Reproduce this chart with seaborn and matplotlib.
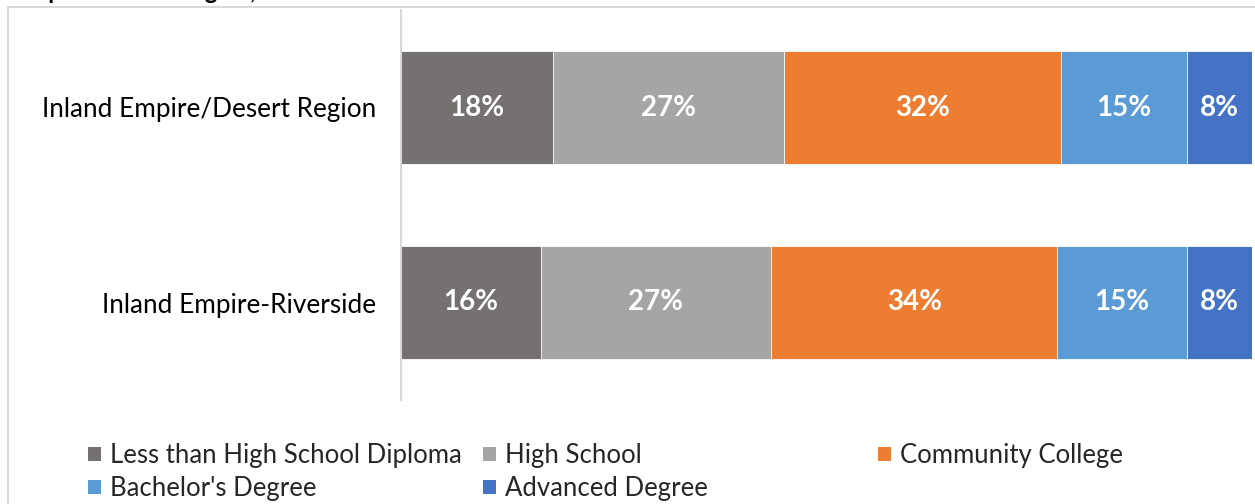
import matplotlib
matplotlib.use("Agg")
import matplotlib.pyplot as plt
from matplotlib.patches import Patch
from matplotlib.lines import Line2D
import seaborn as sns
import pandas as pd
import numpy as np

regions = ["Inland Empire/Desert Region", "Inland Empire-Riverside"]
levels = ["Less than High School Diploma", "High School", "Community College",
          "Bachelor's Degree", "Advanced Degree"]
desert_values = [17.9, 27.1, 32.5, 14.9, 7.6]
riverside_values = [16.4, 27.1, 33.6, 15.3, 7.6]
desert_labels = ["18%", "27%", "32%", "15%", "8%"]
riverside_labels = ["16%", "27%", "34%", "15%", "8%"]
colors = ["#767171", "#A5A5A5", "#ED7D31", "#5B9BD5", "#4472C4"]

sns.set_theme(style="white")
plt.rcParams["font.family"] = ["Lato", "DejaVu Sans"]

rows = []
for reg, vals, labs in [(regions[0], desert_values, desert_labels),
                        (regions[1], riverside_values, riverside_labels)]:
    cum = np.cumsum(vals)
    for lev, v, c, lab in zip(levels, vals, cum, labs):
        rows.append({"region": reg, "level": lev, "value": v, "cum": c, "label": lab})
df = pd.DataFrame(rows)

fig = plt.figure(figsize=(12.55, 5.04), dpi=100)
ax = fig.add_axes([401 / 1255, 1 - 400 / 504, 851 / 1255, 390 / 504])

for lev, col in reversed(list(zip(levels, colors))):
    sub = df[df["level"] == lev]
    sns.barplot(data=sub, x="cum", y="region", order=regions, orient="h",
                color=col, saturation=1, width=0.575, edgecolor="white",
                linewidth=0.6, ax=ax)

for _, r in df.iterrows():
    yi = regions.index(r["region"])
    ax.text(r["cum"] - r["value"] / 2, yi, r["label"], ha="center", va="center",
            color="white", fontsize=20, fontweight="bold")

ax.set_xlim(0, 100)
ax.set_ylim(1.5, -0.5)
ax.set_xlabel("")
ax.set_ylabel("")
ax.set_xticks([])
ax.tick_params(axis="y", length=0, pad=18, labelsize=18.8, labelcolor="black")
for s in ["top", "right", "bottom"]:
    ax.spines[s].set_visible(False)
ax.spines["left"].set_color("#D9D9D9")
ax.spines["left"].set_linewidth(1.5)

# chart frame (partially visible)
fig.add_artist(Line2D([8 / 1255, 1.0], [1 - 7 / 504, 1 - 7 / 504],
                      transform=fig.transFigure, color="#D9D9D9", lw=1.5))
fig.add_artist(Line2D([8 / 1255, 8 / 1255], [0, 1 - 7 / 504],
                      transform=fig.transFigure, color="#D9D9D9", lw=1.5))

# title (cut off at top in the original)
fig.text(15 / 1255, 1 + 1 / 504, "Empire/Desert Region, ...", ha="left",
         va="baseline", fontsize=17, fontweight="bold", color="black")

# legend in three fixed-width columns
handles = {lev: Patch(facecolor=c, edgecolor="none") for lev, c in zip(levels, colors)}
cols = [(88, ["Less than High School Diploma", "Bachelor's Degree"]),
        (483, ["High School", "Advanced Degree"]),
        (878, ["Community College"])]
for x0, labs in cols:
    leg = fig.legend([handles[l] for l in labs], labs, loc="upper left",
                     bbox_to_anchor=(x0 / 1255, 1 - 443 / 504), frameon=False,
                     fontsize=18.5, handlelength=0.5, handleheight=0.5,
                     handletextpad=0.35, borderpad=0, borderaxespad=0,
                     labelspacing=0.32)

fig.savefig("out.png", dpi=100)
